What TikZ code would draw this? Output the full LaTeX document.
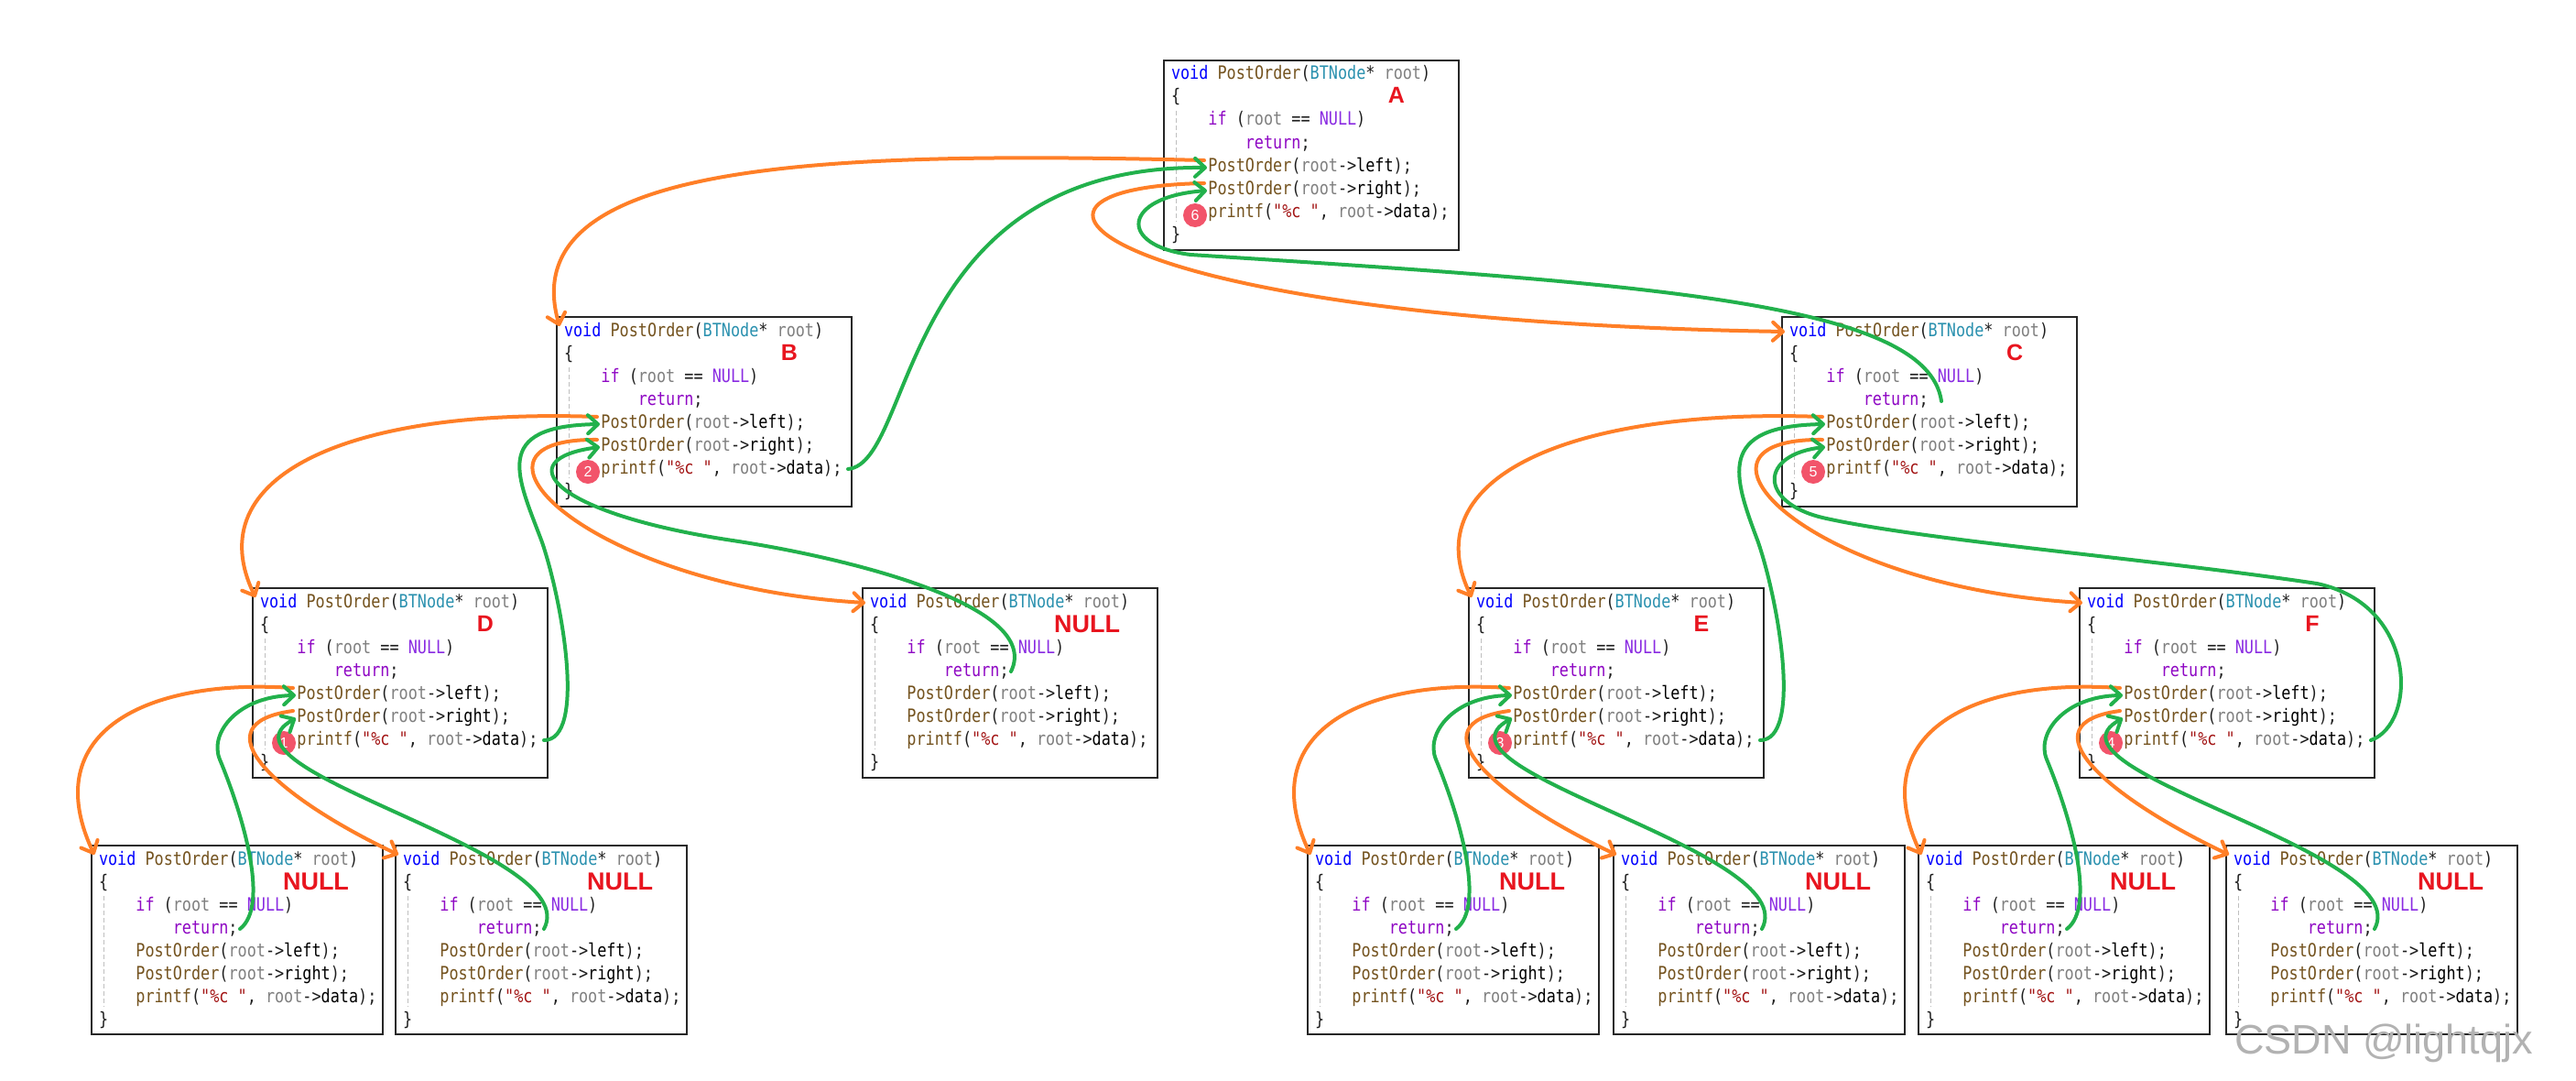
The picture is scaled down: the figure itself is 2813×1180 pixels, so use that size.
\documentclass[tikz,border=0pt]{standalone}
\usepackage{fontspec}
\usetikzlibrary{arrows.meta,calc}
\newfontfamily\codefnt[FakeStretch=0.84]{DejaVu Sans Mono}
\newfontfamily\lblfnt{Liberation Sans}
\definecolor{orgc}{HTML}{FF7F27}
\definecolor{grnc}{HTML}{22B14C}
\definecolor{lred}{HTML}{E8151F}
\definecolor{numr}{HTML}{F2546A}
\definecolor{cvoid}{HTML}{0000FF}
\definecolor{cfn}{HTML}{74531F}
\definecolor{cty}{HTML}{2B91AF}
\definecolor{cpa}{HTML}{808080}
\definecolor{cpu}{HTML}{1E1E1E}
\definecolor{cif}{HTML}{8F08C4}
\definecolor{cnu}{HTML}{8A2BE2}
\definecolor{cst}{HTML}{A31515}
\newcommand\zkw[1]{\textcolor{cvoid}{#1}}
\newcommand\zfn[1]{\textcolor{cfn}{#1}}
\newcommand\zty[1]{\textcolor{cty}{#1}}
\newcommand\zpa[1]{\textcolor{cpa}{#1}}
\newcommand\zpu[1]{\textcolor{cpu}{#1}}
\newcommand\zif[1]{\textcolor{cif}{#1}}
\newcommand\znu[1]{\textcolor{cnu}{#1}}
\newcommand\zst[1]{\textcolor{cst}{#1}}
\newcommand\zbk[1]{\textcolor{black}{#1}}
\newcommand\cfs{\codefnt\fontsize{20pt}{25pt}\selectfont}
\def\cw{10.1}
\def\bw{322pt}
\def\bh{207pt}
\tikzset{
  boxfr/.style={draw=black!85, line width=2.2pt, fill=white, inner sep=0pt, outer sep=0pt, rectangle},
  cl/.style={anchor=base west, inner sep=0pt, outer sep=0pt, font=\cfs},
  guide/.style={draw=black!25, line width=1pt, dash pattern=on 5pt off 3pt},
  lbl/.style={anchor=base, inner sep=0pt, text=lred, font=\lblfnt\bfseries\fontsize{25pt}{25pt}\selectfont},
  nlbl/.style={anchor=base, inner sep=0pt, text=lred, font=\lblfnt\bfseries\fontsize{27pt}{27pt}\selectfont},
  numc/.style={circle, fill=numr, minimum size=26pt, inner sep=0pt, text=white, font=\lblfnt\fontsize{16pt}{16pt}\selectfont},
  org/.style={draw=orgc, line width=4pt, line cap=round, -{Straight Barb[length=11pt,width=20pt,round]}},
  grn/.style={draw=grnc, line width=4pt, line cap=round, -{Straight Barb[length=11pt,width=20pt,round]}}
}
\newcommand\codebody[3]{%
  \node[boxfr, minimum width=\bw, minimum height=\bh, anchor=north west] (#1) at (#2,#3) {};
  \draw[guide] ({#2+13},{#3+55}) -- ({#2+13},{#3+176});
  \node[cl] (#1-l1) at ({#2+8},{#3+21}) {\zkw{void} \zfn{PostOrder}\zpu{(}\zty{BTNode}\zpu{*} \zpa{root}\zpu{)}};
  \node[cl] (#1-l2) at ({#2+8},{#3+46}) {\zpu{\{}};
  \node[cl] (#1-l3) at ({#2+8+4*\cw},{#3+71}) {\zif{if} \zpu{(}\zpa{root} \zpu{==} \znu{NULL}\zpu{)}};
  \node[cl] (#1-l4) at ({#2+8+8*\cw},{#3+96}) {\zif{return}\zpu{;}};
  \node[cl] (#1-l5) at ({#2+8+4*\cw},{#3+121}) {\zfn{PostOrder}\zpu{(}\zpa{root}\zpu{->}\zbk{left}\zpu{);}};
  \node[cl] (#1-l6) at ({#2+8+4*\cw},{#3+146}) {\zfn{PostOrder}\zpu{(}\zpa{root}\zpu{->}\zbk{right}\zpu{);}};
  \node[cl] (#1-l7) at ({#2+8+4*\cw},{#3+171}) {\zfn{printf}\zpu{(}\zst{"\%c "}\zpu{, }\zpa{root}\zpu{->}\zbk{data}\zpu{);}};
  \node[cl] (#1-l8) at ({#2+8},{#3+196}) {\zpu{\}}};
  \coordinate (#1-o5) at ({#2+44},{#3+109});
  \coordinate (#1-o6) at ({#2+44},{#3+134});
  \coordinate (#1-g5) at ({#2+47},{#3+117});
  \coordinate (#1-g6) at ({#2+47},{#3+142});
  \coordinate (#1-pe) at ({#2+318},{#3+166});
  \coordinate (#1-rt) at ({#2+162},{#3+91});
  \coordinate (#1-it) at ({#2+3},{#3+10});
  \coordinate (#1-il) at ({#2+3},{#3+16});
}
\newcommand\mkbox[5]{\codebody{#1}{#2}{#3}%
  \node[lbl] (#1-lb) at ({#2+254},{#3+47}) {#4};
  \node[numc] (#1-nc) at ({#2+34},{#3+169}) {#5};}
\newcommand\mknull[3]{\codebody{#1}{#2}{#3}%
  \node[nlbl] (#1-lb) at ({#2+245},{#3+48}) {NULL};}
\newcommand\stree[3]{%
  \draw[org] (#1-o5) .. controls ($(#1-o5)+(-160,-11)$) and ($(#2-it)+(-63,-134)$) .. (#2-it);
  \draw[org] (#1-o6) .. controls ($(#1-o6)+(-105,14)$) and ($(#3-it)+(-135,-64)$) .. (#3-it);
  \draw[grn] (#2-rt) .. controls ($(#2-rt)+(33,-25)$) and ($(#2-rt)+(3,-125)$) .. ($(#2-rt)+(-22,-185)$) .. controls ($(#2-rt)+(-34,-214)$) and ($(#1-g5)+(-63,1)$) .. (#1-g5);
  \draw[grn] (#3-rt) .. controls ($(#3-rt)+(46,-85)$) and ($(#1-g6)+(-103,57)$) .. (#1-g6);
}
\begin{document}
\begin{tikzpicture}[x=1pt,y=-1pt]
\fill[white] (0,0) rectangle (2813,1180);
\useasboundingbox (0,0) rectangle (2813,1180);
% boxes
\mkbox{A}{1271}{66}{A}{6}
\mkbox{B}{608}{346}{B}{2}
\mkbox{C}{1946}{346}{C}{5}
\mkbox{D}{276}{642}{D}{1}
\mknull{BN}{942}{642}
\mkbox{E}{1604}{642}{E}{3}
\mkbox{F}{2271}{642}{F}{4}
\def\bw{318pt}\def\bh{206pt}
\mknull{DL}{100}{923}
\mknull{DR}{432}{923}
\mknull{EL}{1428}{923}
\mknull{ER}{1762}{923}
\mknull{FL}{2095}{923}
\mknull{FR}{2431}{923}
\coordinate (C-gs) at (2120,438);
% level A
\draw[org] (A-o5) .. controls ($(A-o5)+(-415,-10)$) and ($(B-it)+(-52,-181)$) .. (B-it);
\draw[grn] (B-pe) .. controls ($(B-pe)+(74,-7)$) and ($(A-g5)+(-339,-3)$) .. (A-g5);
\draw[org] (A-o6) .. controls ($(A-o6)+(-265,5)$) and ($(C-il)+(-749,-12)$) .. (C-il);
\draw[grn] (C-gs) .. controls ($(C-gs)+(-15,-108)$) and ($(C-gs)+(-320,-128)$) .. ($(C-gs)+(-820,-160)$) .. controls ($(C-gs)+(-900,-170)$) and ($(A-g6)+(-93,7)$) .. (A-g6);
% level B
\draw[org] (B-o5) .. controls ($(B-o5)+(-272,-10)$) and ($(D-it)+(-64,-132)$) .. (D-it);
\draw[org] (B-o6) .. controls ($(B-o6)+(-172,-2)$) and ($(BN-il)+(-305,-18)$) .. (BN-il);
\draw[grn] (D-pe) .. controls ($(D-pe)+(46,0)$) and ($(D-pe)+(21,-148)$) .. ($(D-pe)+(-2,-216)$) .. controls ($(D-pe)+(-29,-288)$) and ($(B-g5)+(-120,2)$) .. (B-g5);
\draw[grn] (BN-rt) .. controls ($(BN-rt)+(36,-73)$) and ($(BN-rt)+(-184,-125)$) .. ($(BN-rt)+(-304,-143)$) .. controls ($(BN-rt)+(-504,-173)$) and ($(B-g6)+(-100,13)$) .. (B-g6);
% level C
\draw[org] (C-o5) .. controls ($(C-o5)+(-272,-10)$) and ($(E-it)+(-64,-132)$) .. (E-it);
\draw[org] (C-o6) .. controls ($(C-o6)+(-172,-2)$) and ($(F-il)+(-305,-18)$) .. (F-il);
\draw[grn] (E-pe) .. controls ($(E-pe)+(46,0)$) and ($(E-pe)+(21,-148)$) .. ($(E-pe)+(-2,-216)$) .. controls ($(E-pe)+(-29,-288)$) and ($(C-g5)+(-120,2)$) .. (C-g5);
\draw[grn] (F-pe) .. controls ($(F-pe)+(51,-18)$) and ($(F-pe)+(51,-148)$) .. ($(F-pe)+(-59,-171)$) .. controls ($(F-pe)+(-239,-198)$) and ($(F-pe)+(-489,-218)$) .. ($(F-pe)+(-599,-243)$) .. controls ($(F-pe)+(-669,-260)$) and ($(C-g6)+(-72,8)$) .. (C-g6);
% subtrees
\stree{D}{DL}{DR}
\stree{E}{EL}{ER}
\stree{F}{FL}{FR}
% watermark
\node[anchor=base west, inner sep=0pt, text=black!30, font=\lblfnt\fontsize{45pt}{45pt}\selectfont] (wm) at (2440,1150) {CSDN @lightqjx};
\end{tikzpicture}
\end{document}
